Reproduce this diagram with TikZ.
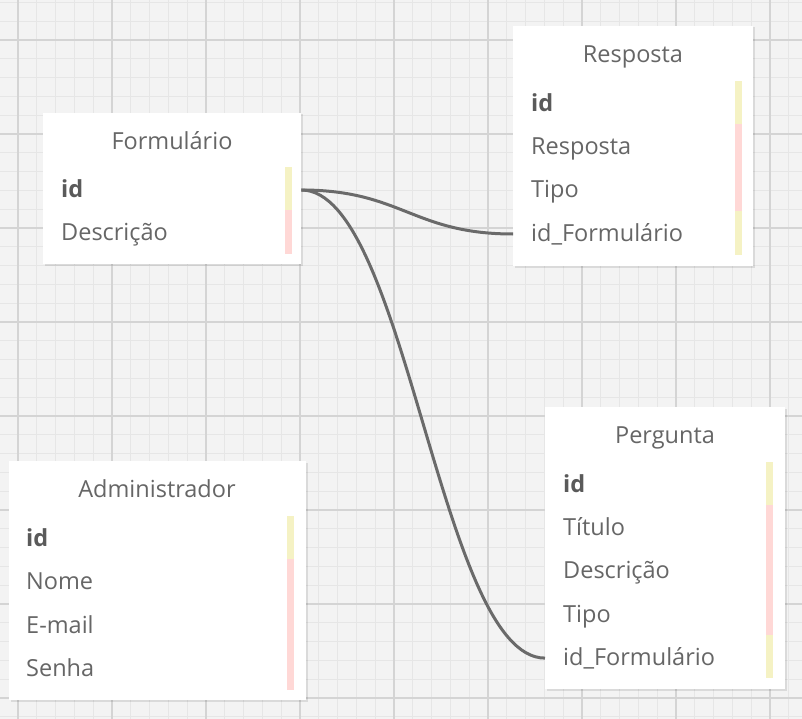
\documentclass[tikz,border=0pt]{standalone}
\usepackage{fontspec}
\setmainfont{Open Sans}
\definecolor{bgc}{HTML}{F3F3F3}
\definecolor{minorc}{HTML}{E6E6E6}
\definecolor{majorc}{HTML}{D4D4D4}
\definecolor{txtc}{HTML}{666666}
\definecolor{idc}{HTML}{5A5A5A}
\definecolor{pkc}{HTML}{F5F2C4}
\definecolor{fkc}{HTML}{FFD8D6}
\definecolor{linec}{HTML}{6A6A6A}
\newcommand{\tfont}{\fontsize{23.5}{28}\selectfont}
\tikzset{
  tbl/.style={draw=none, fill=white, anchor=north west, inner sep=0pt},
  shadowbox/.style={fill=black, opacity=0.10},
  ttl/.style={font=\tfont, text=txtc, inner sep=0pt, text height=18pt, text depth=3pt, anchor=base},
  row/.style={font=\tfont, text=txtc, inner xsep=18pt, inner ysep=0pt, text height=18pt, text depth=3pt, anchor=base west, align=left},
  conn/.style={draw=linec, line width=3pt},
}
\begin{document}
\begin{tikzpicture}[x=1pt,y=-1pt]
\useasboundingbox (0,0) rectangle (802,719);
\fill[bgc] (0,0) rectangle (802,719);
% minor grid
\foreach \i in {0,...,43} {
  \draw[minorc, line width=1.3pt] ({-0.8+18.8*\i},0) -- ({-0.8+18.8*\i},719);
}
\foreach \i in {0,...,39} {
  \draw[minorc, line width=1.3pt] (0,{2.4+18.8*\i}) -- (802,{2.4+18.8*\i});
}
% major grid
\foreach \i in {0,...,8} {
  \draw[majorc, line width=1.8pt] ({18+94*\i},0) -- ({18+94*\i},719);
}
\foreach \i in {0,...,7} {
  \draw[majorc, line width=1.8pt] (0,{40+94*\i}) -- (802,{40+94*\i});
}

% ---------- Formulario ----------
\fill[shadowbox] (44.5,114.5) rectangle (302.5,266);
\node[tbl, minimum width=258pt, minimum height=151pt] (form) at (43,113) {};
\node[ttl] (form-t) at (172,149.3) {Formulário};
\fill[pkc] (285,167) rectangle (292,210.5);
\fill[fkc] (285,210.5) rectangle (292,254);
\node[row, text width=222pt] (form-id) at (43,197.5) {\textcolor{idc}{\textbf{id}}};
\node[row, text width=222pt] (form-desc) at (43,240.5) {Descrição};

% ---------- Resposta ----------
\fill[shadowbox] (514.5,27.5) rectangle (754.5,268);
\node[tbl, minimum width=240pt, minimum height=240pt] (resp) at (513,26) {};
\node[ttl] (resp-t) at (633,62.3) {Resposta};
\fill[pkc] (735,81) rectangle (742,124);
\fill[fkc] (735,124) rectangle (742,211);
\fill[pkc] (735,211) rectangle (742,255);
\node[row, text width=204pt] (resp-id) at (513,111.5) {\textcolor{idc}{\textbf{id}}};
\node[row, text width=204pt] (resp-r) at (513,154.5) {Resposta};
\node[row, text width=204pt] (resp-tp) at (513,198) {Tipo};
\node[row, text width=204pt] (resp-fk) at (513,241.5) {id\_Formulário};

% ---------- Pergunta ----------
\fill[shadowbox] (546.5,408.5) rectangle (786.5,691);
\node[tbl, minimum width=240pt, minimum height=282pt] (perg) at (545,407) {};
\node[ttl] (perg-t) at (665,443.3) {Pergunta};
\fill[pkc] (766,462) rectangle (773,505);
\fill[fkc] (766,505) rectangle (773,635);
\fill[pkc] (766,635) rectangle (773,678);
\node[row, text width=204pt] (perg-id) at (545,492) {\textcolor{idc}{\textbf{id}}};
\node[row, text width=204pt] (perg-ti) at (545,535.3) {Título};
\node[row, text width=204pt] (perg-de) at (545,578.8) {Descrição};
\node[row, text width=204pt] (perg-tp) at (545,622.2) {Tipo};
\node[row, text width=204pt] (perg-fk) at (545,665.6) {id\_Formulário};

% ---------- Administrador ----------
\fill[shadowbox] (10.5,462.5) rectangle (307.5,702);
\node[tbl, minimum width=297pt, minimum height=239pt] (adm) at (9,461) {};
\node[ttl] (adm-t) at (157,497.7) {Administrador};
\fill[pkc] (287,516) rectangle (294,559);
\fill[fkc] (287,559) rectangle (294,690);
\node[row, text width=261pt, inner xsep=17pt] (adm-id) at (9,546.5) {\textcolor{idc}{\textbf{id}}};
\node[row, text width=261pt, inner xsep=17pt] (adm-no) at (9,589.8) {Nome};
\node[row, text width=261pt, inner xsep=17pt] (adm-em) at (9,633) {E-mail};
\node[row, text width=261pt, inner xsep=17pt] (adm-se) at (9,676.3) {Senha};

% ---------- connectors ----------
\draw[conn] (form-id.east) .. controls +(100,0) and +(-100,0) .. (resp-fk.west);
\draw[conn] (form-id.east) .. controls +(105,0) and +(-105,0) .. (perg-fk.west);
\end{tikzpicture}
\end{document}
